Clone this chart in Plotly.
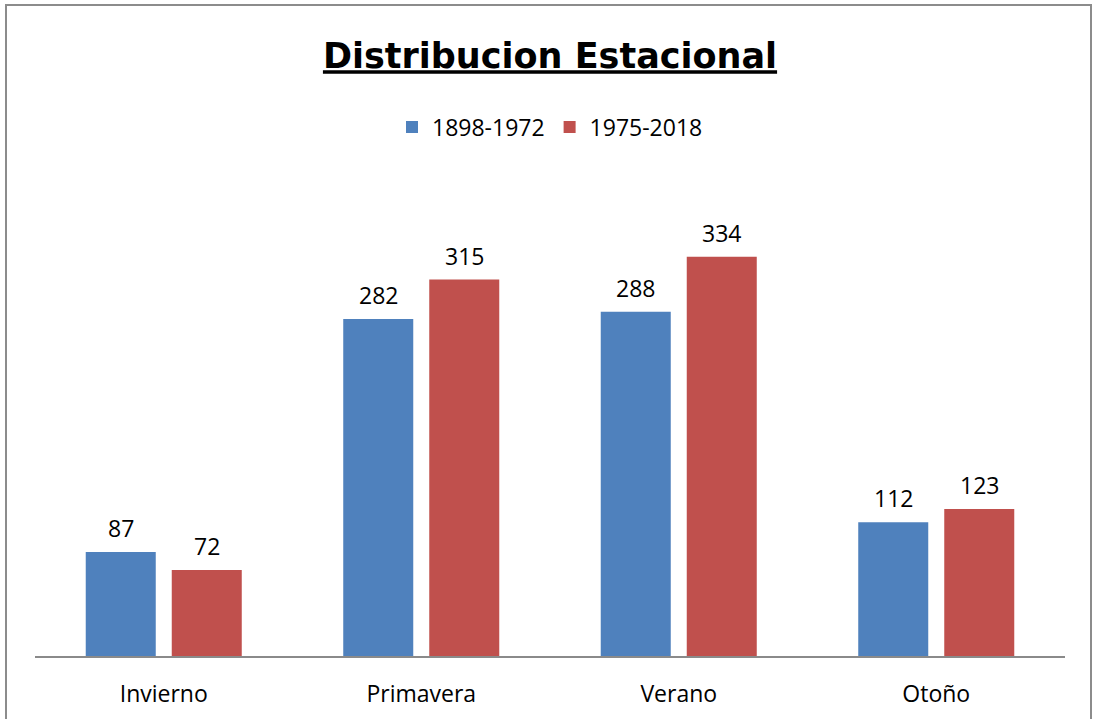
import plotly.graph_objects as go

categories = ["Invierno", "Primavera", "Verano", "Otoño"]
series_names = ["1898-1972", "1975-2018"]
values_1898_1972 = [87, 282, 288, 112]
values_1975_2018 = [72, 315, 334, 123]
colors = ["#4F81BD", "#C0504D"]

W, H = 1093, 719
ml, mr, mt, mb = 35, 28, 178, 63
pw = W - ml - mr
ph = H - mt - mb

fig = go.Figure()
for name, vals, col in zip(series_names, [values_1898_1972, values_1975_2018], colors):
    fig.add_trace(go.Bar(x=categories, y=vals, name=name, marker_color=col,
                         marker_line_width=0, hoverinfo="x+y"))

font_main = "Open Sans, Liberation Sans, sans-serif"
annotations = []
for i, vals in enumerate([values_1898_1972, values_1975_2018]):
    shift = -43 if i == 0 else 43
    for c, v in zip(categories, vals):
        annotations.append(dict(x=c, y=v, xref="x", yref="y", text=str(v),
                                showarrow=False, xshift=shift, yanchor="bottom",
                                yshift=6, font=dict(family=font_main, size=23, color="#000")))

def px_x(p):
    return (p - ml) / pw

def px_y(p):
    return 1 - (p - mt) / ph

fig.update_layout(
    width=W, height=H,
    margin=dict(l=ml, r=mr, t=mt, b=mb, pad=0, autoexpand=False),
    paper_bgcolor="white", plot_bgcolor="white",
    barmode="group", bargap=0.332, bargroupgap=0.186,
    title=dict(text="<u><b>Distribucion Estacional</b></u>", x=0.5, xanchor="center",
               y=1 - 56 / H, yanchor="middle", xref="paper",
               font=dict(family="DejaVu Sans, Liberation Sans, sans-serif", size=35, color="#000")),
    showlegend=True,
    legend=dict(orientation="h", x=0.5, xanchor="center", y=px_y(127), yanchor="middle",
                font=dict(family=font_main, size=23, color="#000"),
                itemsizing="constant", bgcolor="rgba(0,0,0,0)"),
    xaxis=dict(showline=True, linecolor="#8A8A8A", linewidth=2, showgrid=False,
               ticks="", tickfont=dict(family=font_main, size=23, color="#000"),
               ticklabelstandoff=16, automargin=False, fixedrange=True),
    yaxis=dict(range=[0, 400], visible=False, showgrid=False, zeroline=False,
               automargin=False, fixedrange=True),
    annotations=annotations,
    shapes=[dict(type="rect", xref="paper", yref="paper",
                 x0=px_x(6), x1=px_x(1091), y0=px_y(730), y1=px_y(5),
                 line=dict(color="#8C8C8C", width=2), fillcolor="rgba(0,0,0,0)", layer="below")],
)

fig.write_html("out.html", config={"displayModeBar": False},
               post_script="document.body.style.margin='0';document.body.style.padding='0';")
